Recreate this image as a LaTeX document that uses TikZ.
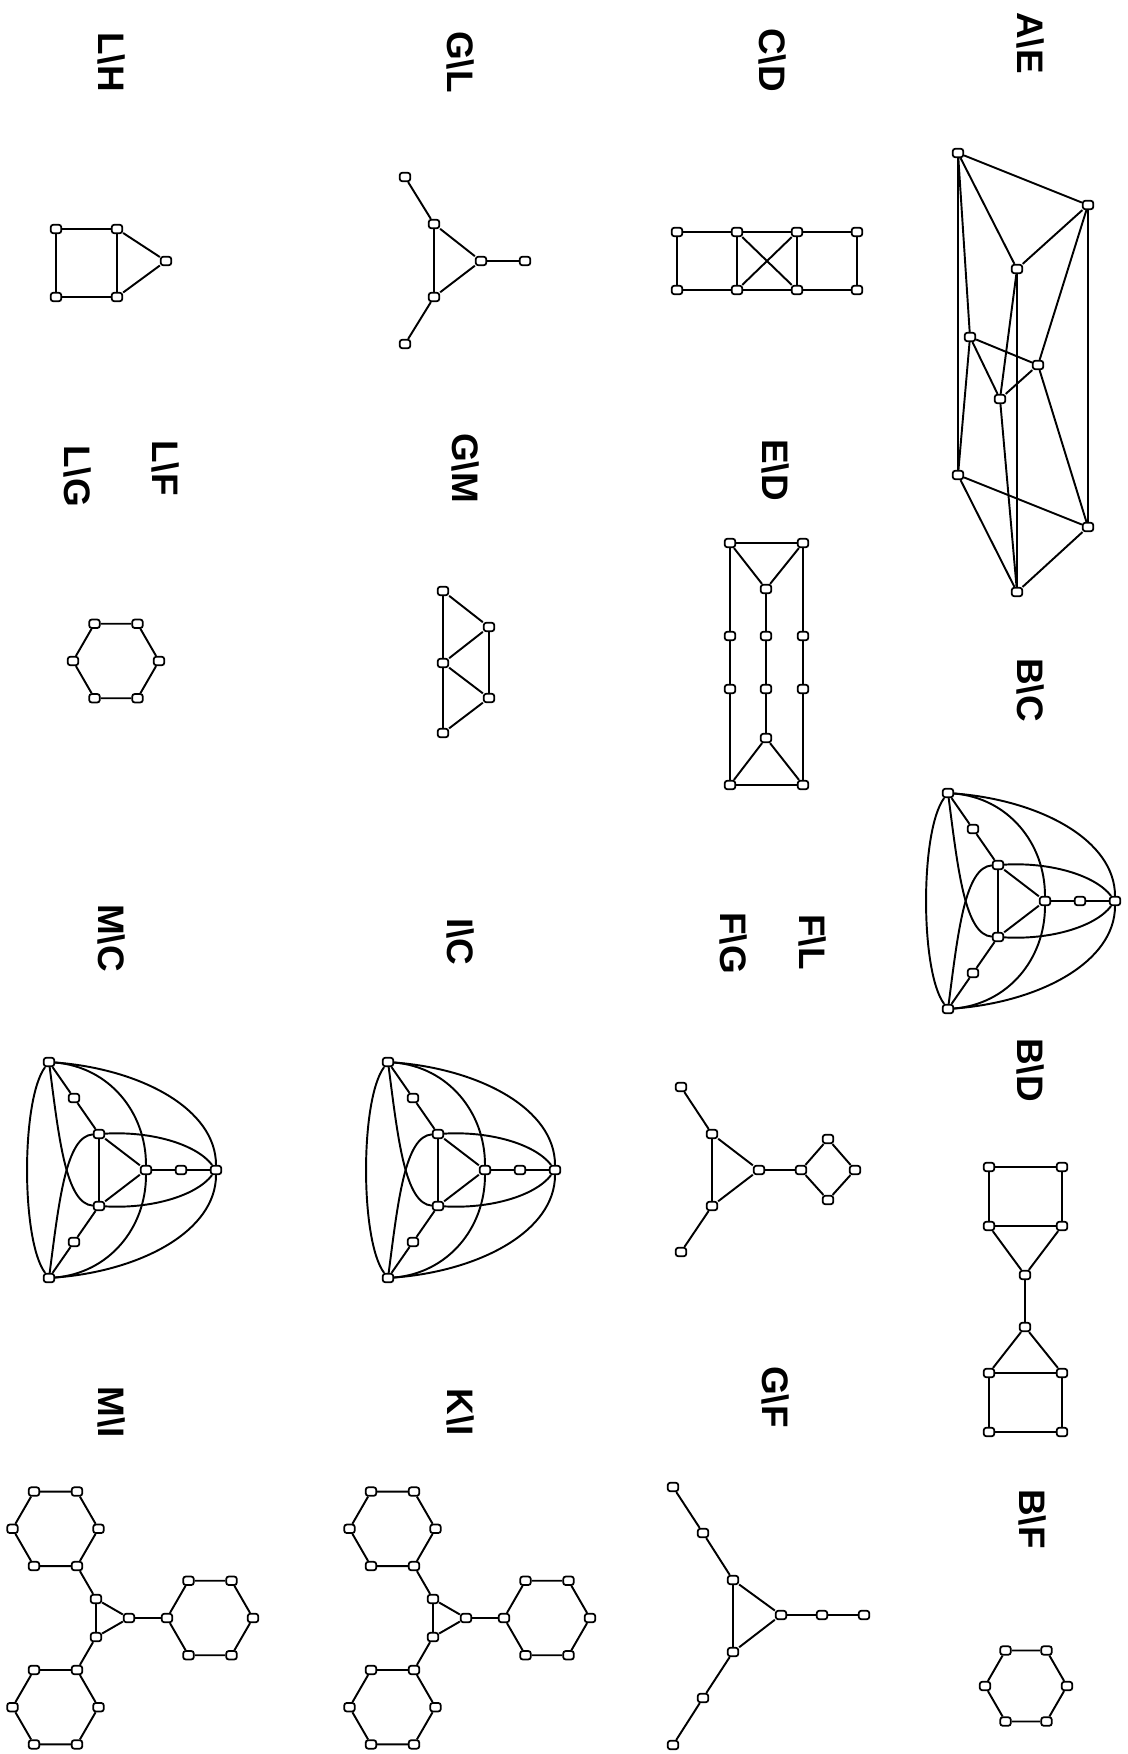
\documentclass[tikz,border=0pt]{standalone}
\usepackage{fontspec}
\setsansfont{Liberation Sans}

\begin{document}
\begin{tikzpicture}[
    x=0.02cm, y=-0.02cm, line width=1.1pt,
    vtx/.style={rectangle, draw, fill=white, rounded corners=1.4pt, minimum width=6pt, minimum height=4.8pt, inner sep=0pt, line width=1pt},
    lbl/.style={rotate=-90, inner sep=0pt, font=\sffamily\bfseries\fontsize{21}{24}\selectfont}
]
\useasboundingbox (0,0) rectangle (1128,1754);

\node[lbl] (lAE) at (1030,43) {A\textbackslash E};
\node[lbl] (lBC) at (1030,690) {B\textbackslash C};
\node[lbl] (lBD) at (1030,1070) {B\textbackslash D};
\node[lbl] (lBF) at (1032,1519) {B\textbackslash F};
\node[lbl] (lCD) at (772,60) {C\textbackslash D};
\node[lbl] (lED) at (775,470) {E\textbackslash D};
\node[lbl] (lFL) at (812,942) {F\textbackslash L};
\node[lbl] (lFG) at (733,943) {F\textbackslash G};
\node[lbl] (lGF) at (775,1397) {G\textbackslash F};
\node[lbl] (lGL) at (461,62) {G\textbackslash L};
\node[lbl] (lGM) at (466,468) {G\textbackslash M};
\node[lbl] (lIC) at (461,942) {I\textbackslash C};
\node[lbl] (lKI) at (461,1412) {K\textbackslash I};
\node[lbl] (lLH) at (112,62) {L\textbackslash H};
\node[lbl] (lLF) at (166,468) {L\textbackslash F};
\node[lbl] (lLG) at (78,476) {L\textbackslash G};
\node[lbl] (lMC) at (112,938) {M\textbackslash C};
\node[lbl] (lMI) at (112,1412) {M\textbackslash I};

\node[vtx] (a1) at (958,153) {};
\node[vtx] (a2) at (1088,205) {};
\node[vtx] (a3) at (1017,269) {};
\node[vtx] (a4) at (970,337) {};
\node[vtx] (a5) at (1038,365) {};
\node[vtx] (a6) at (1000,399) {};
\node[vtx] (a7) at (958,475) {};
\node[vtx] (a8) at (1088,527) {};
\node[vtx] (a9) at (1017,592) {};
\draw (a1) -- (a2) -- (a3) -- (a1) -- (a7) -- (a4) -- (a1);
\draw (a3) -- (a6) -- (a9) -- (a3);
\draw (a4) -- (a5) -- (a6) -- (a4);
\draw (a2) -- (a5) -- (a8) -- (a2);
\draw (a7) -- (a8) -- (a9) -- (a7);

\foreach \pre/\ox/\oy in {bc/948/793, ic/388/1062, mc/49/1062} {
  \begin{scope}[shift={(\ox,\oy)}, name prefix=\pre-]
    \node[vtx] (b1) at (0,0) {};
    \node[vtx] (b2) at (25,36) {};
    \node[vtx] (b3) at (50,72) {};
    \node[vtx] (b4) at (97,108) {};
    \node[vtx] (b5) at (50,144) {};
    \node[vtx] (b6) at (25,180) {};
    \node[vtx] (b7) at (0,216) {};
    \node[vtx] (b8) at (132,108) {};
    \node[vtx] (b9) at (167,108) {};
    \draw (b1) -- (b2) -- (b3) -- (b4) -- (b5) -- (b6) -- (b7);
    \draw (b3) -- (b5) (b4) -- (b8) -- (b9);
    \draw (b1) .. controls (-28,37) and (-28,179) .. (b7);
    \draw (b1) .. controls (92,7) and (167,47) .. (b9);
    \draw (b7) .. controls (92,209) and (167,169) .. (b9);
    \draw (b1) .. controls (60,5) and (97,50) .. (b4);
    \draw (b4) .. controls (97,166) and (60,211) .. (b7);
    \draw (b3) .. controls (102,69) and (147,82) .. (b9);
    \draw (b5) .. controls (102,147) and (147,134) .. (b9);
    \draw (b1) .. controls (10,77) and (17,142) .. (b5);
    \draw (b3) .. controls (17,74) and (10,139) .. (b7);
  \end{scope}
}

\node[vtx] (d1) at (989,1167) {};
\node[vtx] (d2) at (1062,1167) {};
\node[vtx] (d3) at (989,1226) {};
\node[vtx] (d4) at (1062,1226) {};
\node[vtx] (d5) at (1025,1275) {};
\node[vtx] (d6) at (1025,1327) {};
\node[vtx] (d7) at (989,1373) {};
\node[vtx] (d8) at (1062,1373) {};
\node[vtx] (d9) at (989,1432) {};
\node[vtx] (d10) at (1062,1432) {};
\draw (d1) -- (d2) -- (d4) -- (d3) -- (d1);
\draw (d3) -- (d5) -- (d4) (d5) -- (d6);
\draw (d7) -- (d6) -- (d8) -- (d7);
\draw (d7) -- (d9) -- (d10) -- (d8);

\foreach \pre/\hx/\hy/\r in {bf/1026/1686/41, lf/116/661/43} {
  \begin{scope}[shift={(\hx,\hy)}, name prefix=\pre-]
    \foreach \k in {0,...,5}
      \node[vtx] (h\k) at (60*\k:\r) {};
    \draw (h0) -- (h1) -- (h2) -- (h3) -- (h4) -- (h5) -- (h0);
  \end{scope}
}

\node[vtx] (c1) at (677,232) {};
\node[vtx] (c2) at (737,232) {};
\node[vtx] (c3) at (797,232) {};
\node[vtx] (c4) at (857,232) {};
\node[vtx] (c5) at (677,290) {};
\node[vtx] (c6) at (737,290) {};
\node[vtx] (c7) at (797,290) {};
\node[vtx] (c8) at (857,290) {};
\draw (c1) -- (c2) -- (c3) -- (c4) -- (c8) -- (c7) -- (c6) -- (c5) -- (c1);
\draw (c2) -- (c6) (c3) -- (c7) (c2) -- (c7) (c3) -- (c6);

\node[vtx] (e1) at (730,543) {};
\node[vtx] (e2) at (803,543) {};
\node[vtx] (e3) at (766,589) {};
\node[vtx] (e4) at (730,636) {};
\node[vtx] (e5) at (766,636) {};
\node[vtx] (e6) at (803,636) {};
\node[vtx] (e7) at (730,689) {};
\node[vtx] (e8) at (766,689) {};
\node[vtx] (e9) at (803,689) {};
\node[vtx] (e10) at (766,738) {};
\node[vtx] (e11) at (730,785) {};
\node[vtx] (e12) at (803,785) {};
\draw (e1) -- (e2) -- (e3) -- (e1);
\draw (e1) -- (e4) -- (e7) -- (e11);
\draw (e3) -- (e5) -- (e8) -- (e10);
\draw (e2) -- (e6) -- (e9) -- (e12);
\draw (e10) -- (e11) -- (e12) -- (e10);

\node[vtx] (f1) at (681,1087) {};
\node[vtx] (f2) at (712,1134) {};
\node[vtx] (f3) at (759,1170) {};
\node[vtx] (f4) at (712,1206) {};
\node[vtx] (f5) at (681,1252) {};
\node[vtx] (f6) at (801,1170) {};
\node[vtx] (f7) at (828,1139) {};
\node[vtx] (f8) at (855,1170) {};
\node[vtx] (f9) at (828,1200) {};
\draw (f1) -- (f2) -- (f3) -- (f4) -- (f2) (f4) -- (f5);
\draw (f3) -- (f6) -- (f7) -- (f8) -- (f9) -- (f6);

\node[vtx] (g1) at (673,1487) {};
\node[vtx] (g2) at (703,1533) {};
\node[vtx] (g3) at (733,1580) {};
\node[vtx] (g4) at (781,1615) {};
\node[vtx] (g5) at (822,1615) {};
\node[vtx] (g6) at (864,1615) {};
\node[vtx] (g7) at (733,1652) {};
\node[vtx] (g8) at (703,1698) {};
\node[vtx] (g9) at (673,1745) {};
\draw (g1) -- (g2) -- (g3) -- (g4) -- (g7) -- (g3);
\draw (g4) -- (g5) -- (g6) (g7) -- (g8) -- (g9);

\node[vtx] (l1) at (405,177) {};
\node[vtx] (l2) at (434,224) {};
\node[vtx] (l3) at (481,261) {};
\node[vtx] (l4) at (434,297) {};
\node[vtx] (l5) at (405,344) {};
\node[vtx] (l6) at (525,261) {};
\draw (l1) -- (l2) -- (l3) -- (l4) -- (l2) (l4) -- (l5) (l3) -- (l6);

\node[vtx] (m1) at (443,591) {};
\node[vtx] (m2) at (489,627) {};
\node[vtx] (m3) at (443,663) {};
\node[vtx] (m4) at (489,698) {};
\node[vtx] (m5) at (443,733) {};
\draw (m1) -- (m3) -- (m5) -- (m4) -- (m2) -- (m1) (m2) -- (m3) -- (m4);

\node[vtx] (q1) at (56,229) {};
\node[vtx] (q2) at (117,229) {};
\node[vtx] (q3) at (56,297) {};
\node[vtx] (q4) at (117,297) {};
\node[vtx] (q5) at (166,261) {};
\draw (q1) -- (q2) -- (q4) -- (q3) -- (q1) (q2) -- (q5) -- (q4);

\foreach \pre/\cx in {ki/444, mi/107} {
  \begin{scope}[shift={(\cx,1618)}, name prefix=\pre-]
    \foreach \i/\a in {1/0, 2/120, 3/240} {
      \node[vtx] (t\i) at (\a:22) {};
      \foreach \k in {0,...,5}
        \node[vtx] (h\i\k) at ([shift={(\a:103)}] \a+180+60*\k:43) {};
    }
    \draw (t1) -- (t2) -- (t3) -- (t1);
    \foreach \i in {1,2,3} {
      \draw (t\i) -- (h\i0);
      \draw (h\i0) -- (h\i1) -- (h\i2) -- (h\i3) -- (h\i4) -- (h\i5) -- (h\i0);
    }
  \end{scope}
}
\end{tikzpicture}
\end{document}
